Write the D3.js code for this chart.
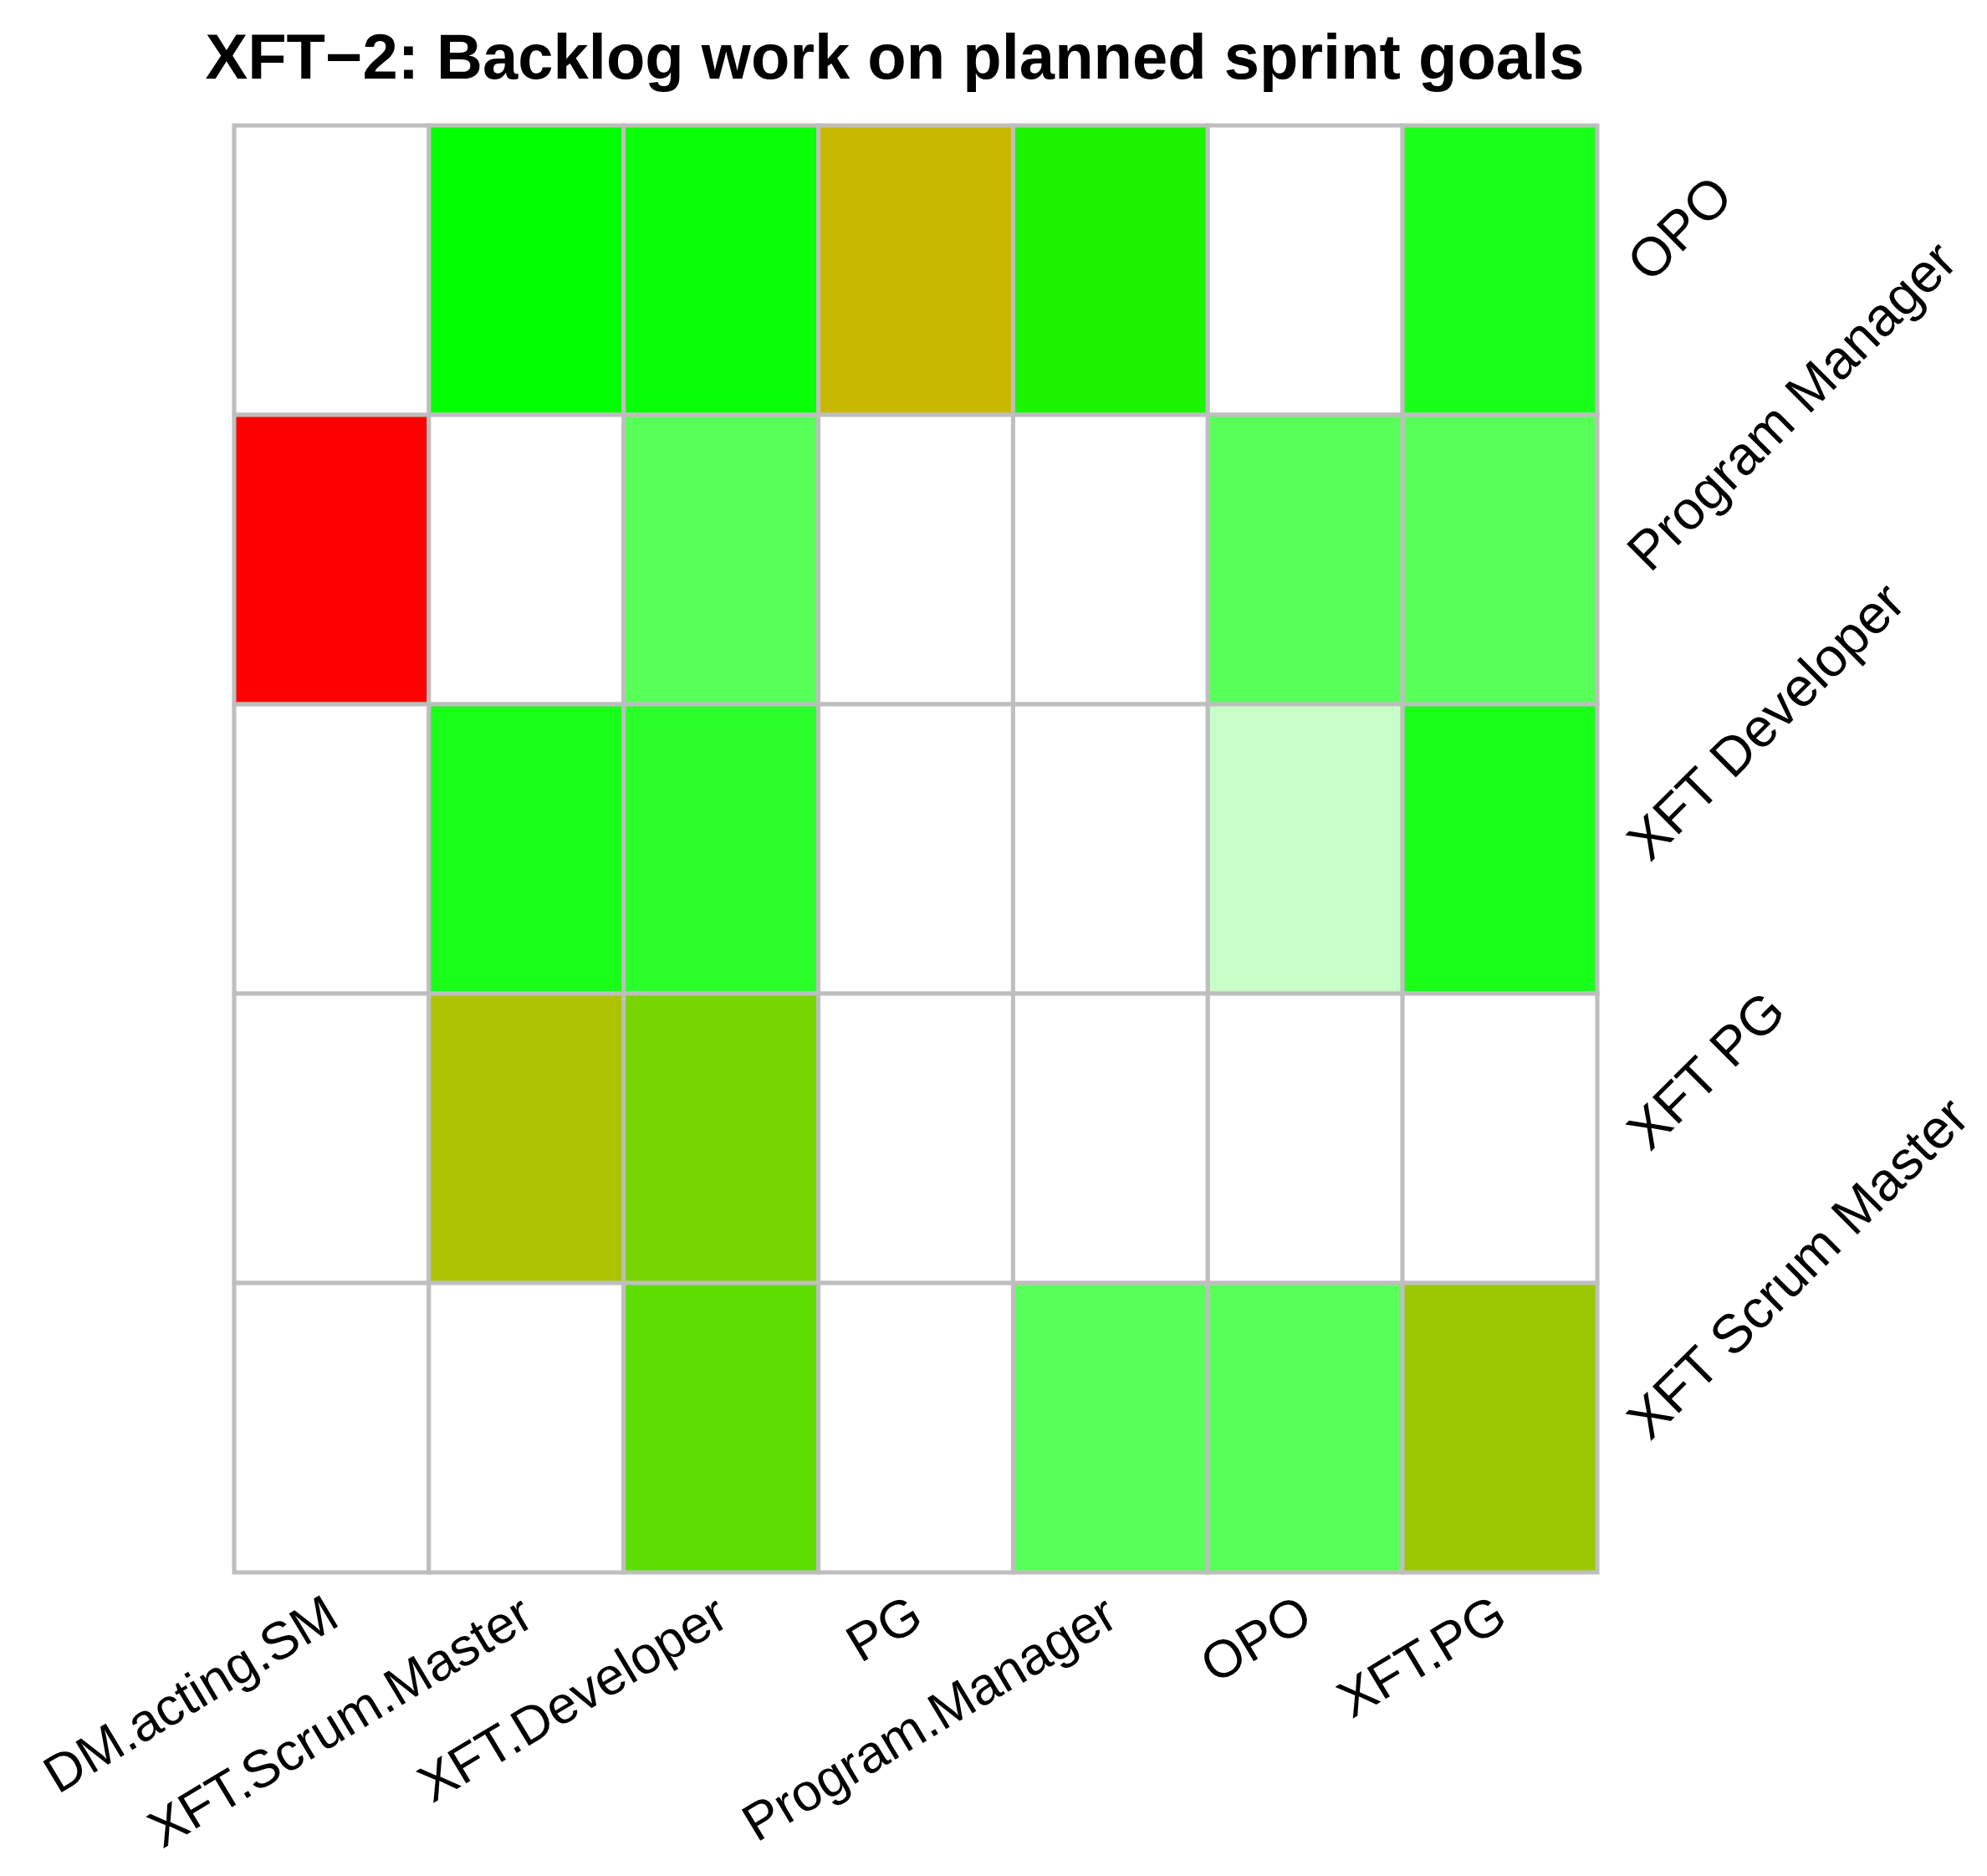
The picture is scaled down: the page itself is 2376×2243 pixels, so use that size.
<!DOCTYPE html>
<html>
<head>
<meta charset="utf-8">
<script src="https://cdn.jsdelivr.net/npm/d3@7"></script>
<style>
  html, body { margin: 0; padding: 0; background: #ffffff; }
  svg { display: block; }
  text { font-family: "Liberation Sans", Arial, Helvetica, sans-serif; fill: #000; }
</style>
</head>
<body>
<script>
// ---- data ----
const title = "XFT\u22122: Backlog work on planned sprint goals";
const columns = ["DM.acting.SM", "XFT.Scrum.Master", "XFT.Developer", "PG", "Program.Manager", "OPO", "XFT.PG"];
const rows = ["OPO", "Program Manager", "XFT Developer", "XFT PG", "XFT Scrum Master"];
// score on red (0) -> orange (0.5) -> green (1); null = no data
const scoreOPO      = [null, 1.0, 1.0, 0.608, 0.945, null, 1.0];
const scorePM       = [0.0, null, 1.0, null, null, 1.0, 1.0];
const scoreDev      = [null, 1.0, 1.0, null, null, 1.0, 1.0];
const scorePG       = [null, 0.661, 0.769, null, null, null, null];
const scoreSM       = [null, null, 0.816, null, 1.0, 1.0, 0.696];
// strength (how saturated the cell is)
const strengthOPO   = [null, 1.0, 0.97, 1.0, 1.0, null, 0.9];
const strengthPM    = [1.0, null, 0.655, null, null, 0.655, 0.655];
const strengthDev   = [null, 0.9, 0.835, null, null, 0.216, 0.9];
const strengthPG    = [null, 1.0, 1.0, null, null, null, null];
const strengthSM    = [null, null, 1.0, null, 0.655, 0.655, 1.0];

const scores = [scoreOPO, scorePM, scoreDev, scorePG, scoreSM];
const strengths = [strengthOPO, strengthPM, strengthDev, strengthPG, strengthSM];

// ---- layout ----
const W = 2376, H = 2243;
const gLeft = 280, gRight = 1910, gTop = 150, gBottom = 1880;

const svg = d3.select("body").append("svg").attr("width", W).attr("height", H);
svg.append("rect").attr("width", W).attr("height", H).attr("fill", "#fff");

const x = d3.scaleBand().domain(columns).range([gLeft, gRight]).padding(0);
const y = d3.scaleBand().domain(rows).range([gTop, gBottom]).padding(0);
const color = d3.scaleLinear().domain([0, 0.5, 1]).range(["#ff0000", "#ffa500", "#00ff00"]).interpolate(d3.interpolateRgb);

const cells = [];
rows.forEach((r, i) => columns.forEach((c, j) => {
  cells.push({ row: r, col: c, score: scores[i][j], strength: strengths[i][j] });
}));

svg.append("g").selectAll("rect").data(cells).join("rect")
  .attr("x", d => x(d.col))
  .attr("y", d => y(d.row))
  .attr("width", x.bandwidth())
  .attr("height", y.bandwidth())
  .attr("fill", d => d.score == null ? "#ffffff" : d3.interpolateRgb("#ffffff", color(d.score))(d.strength))
  .attr("stroke", "#bebebe")
  .attr("stroke-width", 5);

// title
svg.append("text")
  .attr("x", 1070).attr("y", 94)
  .attr("text-anchor", "middle")
  .attr("font-weight", "bold")
  .attr("font-size", 76)
  .text(title);

// bottom labels (rotated)
svg.append("g").selectAll("text").data(columns).join("text")
  .attr("transform", d => `translate(${x(d) + x.bandwidth() / 2 + 12},${gBottom + 62}) rotate(-31)`)
  .attr("text-anchor", "end")
  .attr("font-size", 63)
  .text(d => d);

// right labels (rotated)
svg.append("g").selectAll("text").data(rows).join("text")
  .attr("transform", d => `translate(${gRight + 63},${y(d) + y.bandwidth() / 2 + 17}) rotate(-45)`)
  .attr("text-anchor", "start")
  .attr("font-size", 65)
  .text(d => d);
</script>
</body>
</html>
